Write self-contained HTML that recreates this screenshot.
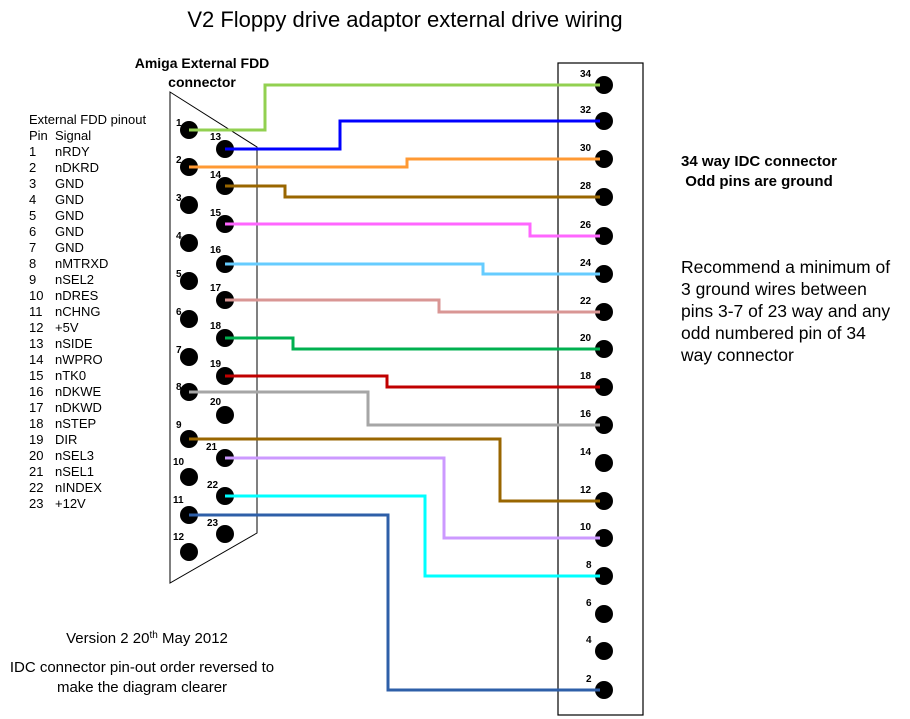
<!DOCTYPE html>
<html><head><meta charset="utf-8"><style>
body{margin:0;background:#fff;}
svg{display:block;font-family:"Liberation Sans",Arial,sans-serif;}
</style></head><body>
<svg width="910" height="719" viewBox="0 0 910 719" xmlns="http://www.w3.org/2000/svg">
<rect width="910" height="719" fill="#fff"/>
<text x="405" y="27" font-size="22" text-anchor="middle">V2 Floppy drive adaptor external drive wiring</text>
<text x="202" y="68" font-size="14" font-weight="bold" text-anchor="middle">Amiga External FDD</text>
<text x="202" y="87" font-size="14" font-weight="bold" text-anchor="middle">connector</text>
<g font-size="13">
<text x="29" y="124">External FDD pinout</text>
<text x="29" y="140">Pin</text><text x="55" y="140">Signal</text>
<g>
<text x="29" y="156">1</text><text x="55" y="156">nRDY</text>
<text x="29" y="172">2</text><text x="55" y="172">nDKRD</text>
<text x="29" y="188">3</text><text x="55" y="188">GND</text>
<text x="29" y="204">4</text><text x="55" y="204">GND</text>
<text x="29" y="220">5</text><text x="55" y="220">GND</text>
<text x="29" y="236">6</text><text x="55" y="236">GND</text>
<text x="29" y="252">7</text><text x="55" y="252">GND</text>
<text x="29" y="268">8</text><text x="55" y="268">nMTRXD</text>
<text x="29" y="284">9</text><text x="55" y="284">nSEL2</text>
<text x="29" y="300">10</text><text x="55" y="300">nDRES</text>
<text x="29" y="316">11</text><text x="55" y="316">nCHNG</text>
<text x="29" y="332">12</text><text x="55" y="332">+5V</text>
<text x="29" y="348">13</text><text x="55" y="348">nSIDE</text>
<text x="29" y="364">14</text><text x="55" y="364">nWPRO</text>
<text x="29" y="380">15</text><text x="55" y="380">nTK0</text>
<text x="29" y="396">16</text><text x="55" y="396">nDKWE</text>
<text x="29" y="412">17</text><text x="55" y="412">nDKWD</text>
<text x="29" y="428">18</text><text x="55" y="428">nSTEP</text>
<text x="29" y="444">19</text><text x="55" y="444">DIR</text>
<text x="29" y="460">20</text><text x="55" y="460">nSEL3</text>
<text x="29" y="476">21</text><text x="55" y="476">nSEL1</text>
<text x="29" y="492">22</text><text x="55" y="492">nINDEX</text>
<text x="29" y="508">23</text><text x="55" y="508">+12V</text>
</g></g>
<polygon points="170,92 257,147 257,533 170,583" fill="none" stroke="#000" stroke-width="1"/>
<rect x="558" y="63" width="85" height="652" fill="none" stroke="#000" stroke-width="1.2"/>
<g fill="#000">
<circle cx="189" cy="130" r="9"/><circle cx="189" cy="167" r="9"/><circle cx="189" cy="205" r="9"/>
<circle cx="189" cy="243" r="9"/><circle cx="189" cy="281" r="9"/><circle cx="189" cy="319" r="9"/>
<circle cx="189" cy="357" r="9"/><circle cx="189" cy="392" r="9"/><circle cx="189" cy="439" r="9"/>
<circle cx="189" cy="477" r="9"/><circle cx="189" cy="515" r="9"/><circle cx="189" cy="552" r="9"/>
<circle cx="225" cy="149" r="9"/><circle cx="225" cy="186" r="9"/><circle cx="225" cy="224" r="9"/>
<circle cx="225" cy="264" r="9"/><circle cx="225" cy="300" r="9"/><circle cx="225" cy="338" r="9"/>
<circle cx="225" cy="376" r="9"/><circle cx="225" cy="415" r="9"/><circle cx="225" cy="458" r="9"/>
<circle cx="225" cy="496" r="9"/><circle cx="225" cy="534" r="9"/>
</g>
<g font-size="10" font-weight="bold">
<text x="176" y="126">1</text><text x="176" y="163">2</text><text x="176" y="201">3</text>
<text x="176" y="239">4</text><text x="176" y="277">5</text><text x="176" y="315">6</text>
<text x="176" y="353">7</text><text x="176" y="390">8</text><text x="176" y="428">9</text>
<text x="173" y="465">10</text><text x="173" y="503">11</text><text x="173" y="540">12</text>
<text x="210" y="140">13</text><text x="210" y="178">14</text><text x="210" y="216">15</text>
<text x="210" y="253">16</text><text x="210" y="291">17</text><text x="210" y="329">18</text>
<text x="210" y="367">19</text><text x="210" y="405">20</text><text x="206" y="450">21</text>
<text x="207" y="488">22</text><text x="207" y="526">23</text>
</g>
<g fill="#000">
<ellipse cx="604" cy="85" rx="9" ry="9"/><ellipse cx="604" cy="121" rx="9" ry="9"/><ellipse cx="604" cy="159" rx="9" ry="9"/>
<ellipse cx="604" cy="197" rx="9" ry="9"/><ellipse cx="604" cy="236" rx="9" ry="9"/><ellipse cx="604" cy="274" rx="9" ry="9"/>
<ellipse cx="604" cy="312" rx="9" ry="9"/><ellipse cx="604" cy="349" rx="9" ry="9"/><ellipse cx="604" cy="387" rx="9" ry="9"/>
<ellipse cx="604" cy="425" rx="9" ry="9"/><ellipse cx="604" cy="463" rx="9" ry="9"/><ellipse cx="604" cy="501" rx="9" ry="9"/>
<ellipse cx="604" cy="538" rx="9" ry="9"/><ellipse cx="604" cy="576" rx="9" ry="9"/><ellipse cx="604" cy="614" rx="9" ry="9"/>
<ellipse cx="604" cy="651" rx="9" ry="9"/><ellipse cx="604" cy="690" rx="9" ry="9"/>
</g>
<g font-size="10" font-weight="bold">
<text x="580" y="77">34</text><text x="580" y="113">32</text><text x="580" y="151">30</text>
<text x="580" y="189">28</text><text x="580" y="228">26</text><text x="580" y="266">24</text>
<text x="580" y="304">22</text><text x="580" y="341">20</text><text x="580" y="379">18</text>
<text x="580" y="417">16</text><text x="580" y="455">14</text><text x="580" y="493">12</text>
<text x="580" y="530">10</text><text x="586" y="568">8</text><text x="586" y="606">6</text>
<text x="586" y="643">4</text><text x="586" y="682">2</text>
</g>
<g fill="none" stroke-width="3">
<polyline stroke="#92d050" points="189,130 265,130 265,85 600,85"/>
<polyline stroke="#0000ff" points="225,149 340,149 340,121 600,121"/>
<polyline stroke="#ff9933" points="189,167 407,167 407,159 600,159"/>
<polyline stroke="#996600" points="225,186 285,186 285,197 600,197"/>
<polyline stroke="#ff66ff" points="225,224 530,224 530,236 600,236"/>
<polyline stroke="#66ccff" points="225,264 483,264 483,274 600,274"/>
<polyline stroke="#d99694" points="225,300 439,300 439,312 600,312"/>
<polyline stroke="#00b050" points="225,338 293,338 293,349 600,349"/>
<polyline stroke="#c00000" points="225,376 387,376 387,387 600,387"/>
<polyline stroke="#a6a6a6" points="189,392 368,392 368,425 600,425"/>
<polyline stroke="#996600" points="189,439 500,439 500,501 600,501"/>
<polyline stroke="#cc99ff" points="225,458 444,458 444,538 600,538"/>
<polyline stroke="#00ffff" points="225,496 425,496 425,576 600,576"/>
<polyline stroke="#2e5fa8" points="189,515 388,515 388,690 600,690"/>
</g>
<text x="759" y="166" font-size="15" font-weight="bold" text-anchor="middle">34 way IDC connector</text>
<text x="759" y="186" font-size="15" font-weight="bold" text-anchor="middle">Odd pins are ground</text>
<g font-size="17.5">
<text x="681" y="273">Recommend a minimum of</text>
<text x="681" y="295">3 ground wires between</text>
<text x="681" y="317">pins 3-7 of 23 way and any</text>
<text x="681" y="339">odd numbered pin of 34</text>
<text x="681" y="361">way connector</text>
</g>
<g font-size="15" text-anchor="middle">
<text x="147" y="643">Version 2 20<tspan font-size="10" dy="-5">th</tspan><tspan dy="5"> May 2012</tspan></text>
<text x="142" y="672">IDC connector pin-out order reversed to</text>
<text x="142" y="692">make the diagram clearer</text>
</g>
</svg>
</body></html>
